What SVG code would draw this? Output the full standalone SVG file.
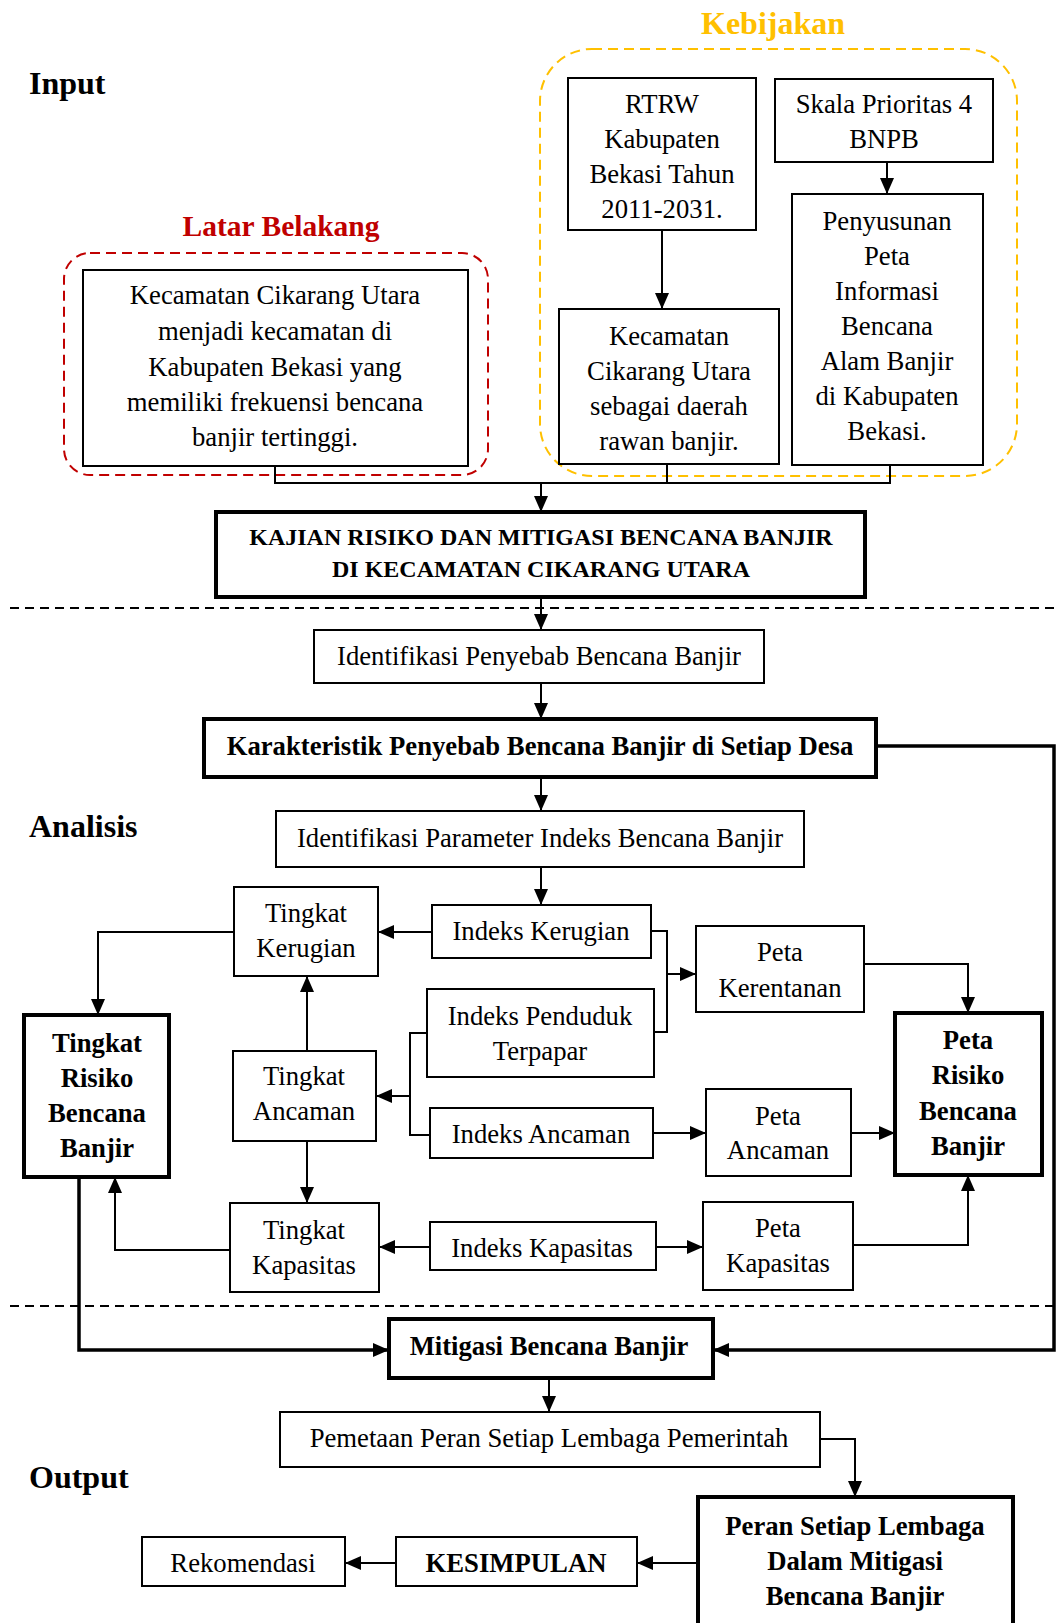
<svg xmlns="http://www.w3.org/2000/svg" width="1057" height="1623" viewBox="0 0 1057 1623">
<defs>
<marker id="ah" markerUnits="userSpaceOnUse" markerWidth="16" markerHeight="14" refX="16" refY="7" orient="auto">
<path d="M0,0 L16,7 L0,14 z" fill="#000"/>
</marker>
<style>
.box{fill:#fff;stroke:#000;stroke-width:2}
.tbox{fill:#fff;stroke:#000;stroke-width:4}
.t{font-family:"Liberation Serif","Times New Roman",serif;font-size:26.7px;fill:#000;text-anchor:middle}
.b{font-weight:bold}
.h{font-family:"Liberation Serif","Times New Roman",serif;font-size:32px;font-weight:bold;fill:#000}
.c{fill:none;stroke:#000;stroke-width:2}
.ct{fill:none;stroke:#000;stroke-width:3.5}
.a{marker-end:url(#ah)}
.dash{stroke:#000;stroke-width:2;stroke-dasharray:9,6}
</style>
</defs>
<rect width="1057" height="1623" fill="#fff"/>

<g id="labels">
<text class="h" x="29" y="94">Input</text>
<text class="h" x="29" y="837">Analisis</text>
<text class="h" x="29" y="1488">Output</text>
</g>

<g id="separators">
<line class="dash" x1="10" y1="608" x2="1057" y2="608"/>
<line class="dash" x1="10" y1="1306" x2="1057" y2="1306"/>
</g>

<g id="latar-group">
<text class="h" x="281" y="236" text-anchor="middle" style="fill:#C00000;font-size:29.5px">Latar Belakang</text>
<rect x="64" y="253" width="424" height="222" rx="26" fill="none" stroke="#C00000" stroke-width="2" stroke-dasharray="10,6"/>
</g>

<g id="kebijakan-group">
<text class="h" x="773" y="34" text-anchor="middle" style="fill:#FFC000">Kebijakan</text>
<rect x="540" y="49" width="477" height="427" rx="52" fill="none" stroke="#FFC000" stroke-width="2" stroke-dasharray="10,6"/>
</g>

<g id="connectors">
<path class="c" d="M275,466 V483 H890 V465"/>
<path class="c" d="M667,464 V483"/>
<path class="c a" d="M541,483 V512"/>
<path class="c a" d="M662,230 V309"/>
<path class="c a" d="M887,162 V194"/>
<path class="c a" d="M541,597 V630"/>
<path class="c a" d="M541,683 V719"/>
<path class="c a" d="M541,777 V811"/>
<path class="c a" d="M541,867 V905"/>
<path class="c a" d="M432,932 H378"/>
<path class="c a" d="M234,932 H98 V1015"/>
<path class="c a" d="M307,1051 V976"/>
<path class="c a" d="M307,1141 V1203"/>
<path class="c" d="M427,1033 H410 V1135 H430"/>
<path class="c a" d="M410,1096 H376"/>
<path class="c a" d="M430,1247 H379"/>
<path class="c a" d="M230,1250 H115 V1177"/>
<path class="c" d="M651,931 H667 V1032 H654"/>
<path class="c a" d="M667,974 H696"/>
<path class="c a" d="M864,964 H968 V1013"/>
<path class="c a" d="M653,1133 H706"/>
<path class="c a" d="M851,1133 H895"/>
<path class="c a" d="M656,1247 H703"/>
<path class="c a" d="M853,1245 H968 V1175"/>
<path class="ct a" d="M876,746 H1054 V1350 H713"/>
<path class="ct a" d="M79,1177 V1350 H389"/>
<path class="c a" d="M549,1378 V1412"/>
<path class="c a" d="M820,1439 H855 V1497"/>
<path class="c a" d="M698,1563 H637"/>
<path class="c a" d="M396,1563 H345"/>
</g>

<g id="latar">
<rect class="box" x="83" y="270" width="385" height="196"/>
<text class="t" x="275" y="304">Kecamatan Cikarang Utara</text>
<text class="t" x="275" y="340">menjadi kecamatan di</text>
<text class="t" x="275" y="376">Kabupaten Bekasi yang</text>
<text class="t" x="275" y="411">memiliki frekuensi bencana</text>
<text class="t" x="275" y="446">banjir tertinggi.</text>
</g>

<g id="rtrw">
<rect class="box" x="568" y="78" width="188" height="152"/>
<text class="t" x="662" y="113">RTRW</text>
<text class="t" x="662" y="148">Kabupaten</text>
<text class="t" x="662" y="183">Bekasi Tahun</text>
<text class="t" x="662" y="218">2011-2031.</text>
</g>

<g id="skala">
<rect class="box" x="775" y="79" width="218" height="83"/>
<text class="t" x="884" y="113">Skala Prioritas 4</text>
<text class="t" x="884" y="148">BNPB</text>
</g>

<g id="penyusunan">
<rect class="box" x="792" y="194" width="191" height="271"/>
<text class="t" x="887" y="230">Penyusunan</text>
<text class="t" x="887" y="265">Peta</text>
<text class="t" x="887" y="300">Informasi</text>
<text class="t" x="887" y="335">Bencana</text>
<text class="t" x="887" y="370">Alam Banjir</text>
<text class="t" x="887" y="405">di Kabupaten</text>
<text class="t" x="887" y="440">Bekasi.</text>
</g>

<g id="kecamatan">
<rect class="box" x="559" y="309" width="220" height="155"/>
<text class="t" x="669" y="345">Kecamatan</text>
<text class="t" x="669" y="380">Cikarang Utara</text>
<text class="t" x="669" y="415">sebagai daerah</text>
<text class="t" x="669" y="450">rawan banjir.</text>
</g>

<g id="kajian">
<rect class="tbox" x="216" y="512" width="649" height="85"/>
<text class="t b" x="541" y="545" style="font-size:24px">KAJIAN RISIKO DAN MITIGASI BENCANA BANJIR</text>
<text class="t b" x="541" y="577" style="font-size:24px">DI KECAMATAN CIKARANG UTARA</text>
</g>

<g id="penyebab">
<rect class="box" x="314" y="630" width="450" height="53"/>
<text class="t" x="539" y="665">Identifikasi Penyebab Bencana Banjir</text>
</g>

<g id="karakteristik">
<rect class="tbox" x="204" y="719" width="672" height="58"/>
<text class="t b" x="540" y="755">Karakteristik Penyebab Bencana Banjir di Setiap Desa</text>
</g>

<g id="parameter">
<rect class="box" x="276" y="811" width="528" height="56"/>
<text class="t" x="540" y="847">Identifikasi Parameter Indeks Bencana Banjir</text>
</g>

<g id="tingkat-kerugian">
<rect class="box" x="234" y="887" width="144" height="89"/>
<text class="t" x="306" y="922">Tingkat</text>
<text class="t" x="306" y="957">Kerugian</text>
</g>

<g id="indeks-kerugian">
<rect class="box" x="432" y="905" width="219" height="53"/>
<text class="t" x="541" y="940">Indeks Kerugian</text>
</g>

<g id="indeks-penduduk">
<rect class="box" x="427" y="989" width="227" height="88"/>
<text class="t" x="540" y="1025">Indeks Penduduk</text>
<text class="t" x="540" y="1060">Terpapar</text>
</g>

<g id="peta-kerentanan">
<rect class="box" x="696" y="926" width="168" height="86"/>
<text class="t" x="780" y="961">Peta</text>
<text class="t" x="780" y="997">Kerentanan</text>
</g>

<g id="tingkat-risiko">
<rect class="tbox" x="24" y="1015" width="145" height="162"/>
<text class="t b" x="97" y="1052">Tingkat</text>
<text class="t b" x="97" y="1087">Risiko</text>
<text class="t b" x="97" y="1122">Bencana</text>
<text class="t b" x="97" y="1157">Banjir</text>
</g>

<g id="tingkat-ancaman">
<rect class="box" x="233" y="1051" width="143" height="90"/>
<text class="t" x="304" y="1085">Tingkat</text>
<text class="t" x="304" y="1120">Ancaman</text>
</g>

<g id="indeks-ancaman">
<rect class="box" x="430" y="1108" width="223" height="50"/>
<text class="t" x="541" y="1143">Indeks Ancaman</text>
</g>

<g id="peta-ancaman">
<rect class="box" x="706" y="1089" width="145" height="87"/>
<text class="t" x="778" y="1125">Peta</text>
<text class="t" x="778" y="1159">Ancaman</text>
</g>

<g id="peta-risiko">
<rect class="tbox" x="895" y="1013" width="147" height="162"/>
<text class="t b" x="968" y="1049">Peta</text>
<text class="t b" x="968" y="1084">Risiko</text>
<text class="t b" x="968" y="1120">Bencana</text>
<text class="t b" x="968" y="1155">Banjir</text>
</g>

<g id="tingkat-kapasitas">
<rect class="box" x="230" y="1203" width="149" height="89"/>
<text class="t" x="304" y="1239">Tingkat</text>
<text class="t" x="304" y="1274">Kapasitas</text>
</g>

<g id="indeks-kapasitas">
<rect class="box" x="430" y="1222" width="226" height="48"/>
<text class="t" x="542" y="1257">Indeks Kapasitas</text>
</g>

<g id="peta-kapasitas">
<rect class="box" x="703" y="1202" width="150" height="88"/>
<text class="t" x="778" y="1237">Peta</text>
<text class="t" x="778" y="1272">Kapasitas</text>
</g>

<g id="mitigasi">
<rect class="tbox" x="389" y="1319" width="324" height="59"/>
<text class="t b" x="549" y="1355">Mitigasi Bencana Banjir</text>
</g>

<g id="pemetaan">
<rect class="box" x="280" y="1412" width="540" height="55"/>
<text class="t" x="549" y="1447">Pemetaan Peran Setiap Lembaga Pemerintah</text>
</g>

<g id="peran">
<rect class="tbox" x="698" y="1497" width="315" height="140"/>
<text class="t b" x="855" y="1535">Peran Setiap Lembaga</text>
<text class="t b" x="855" y="1570">Dalam Mitigasi</text>
<text class="t b" x="855" y="1605">Bencana Banjir</text>
</g>

<g id="kesimpulan">
<rect class="box" x="396" y="1537" width="241" height="49"/>
<text class="t b" x="516" y="1572">KESIMPULAN</text>
</g>

<g id="rekomendasi">
<rect class="box" x="142" y="1537" width="203" height="49"/>
<text class="t" x="243" y="1572">Rekomendasi</text>
</g>
</svg>
